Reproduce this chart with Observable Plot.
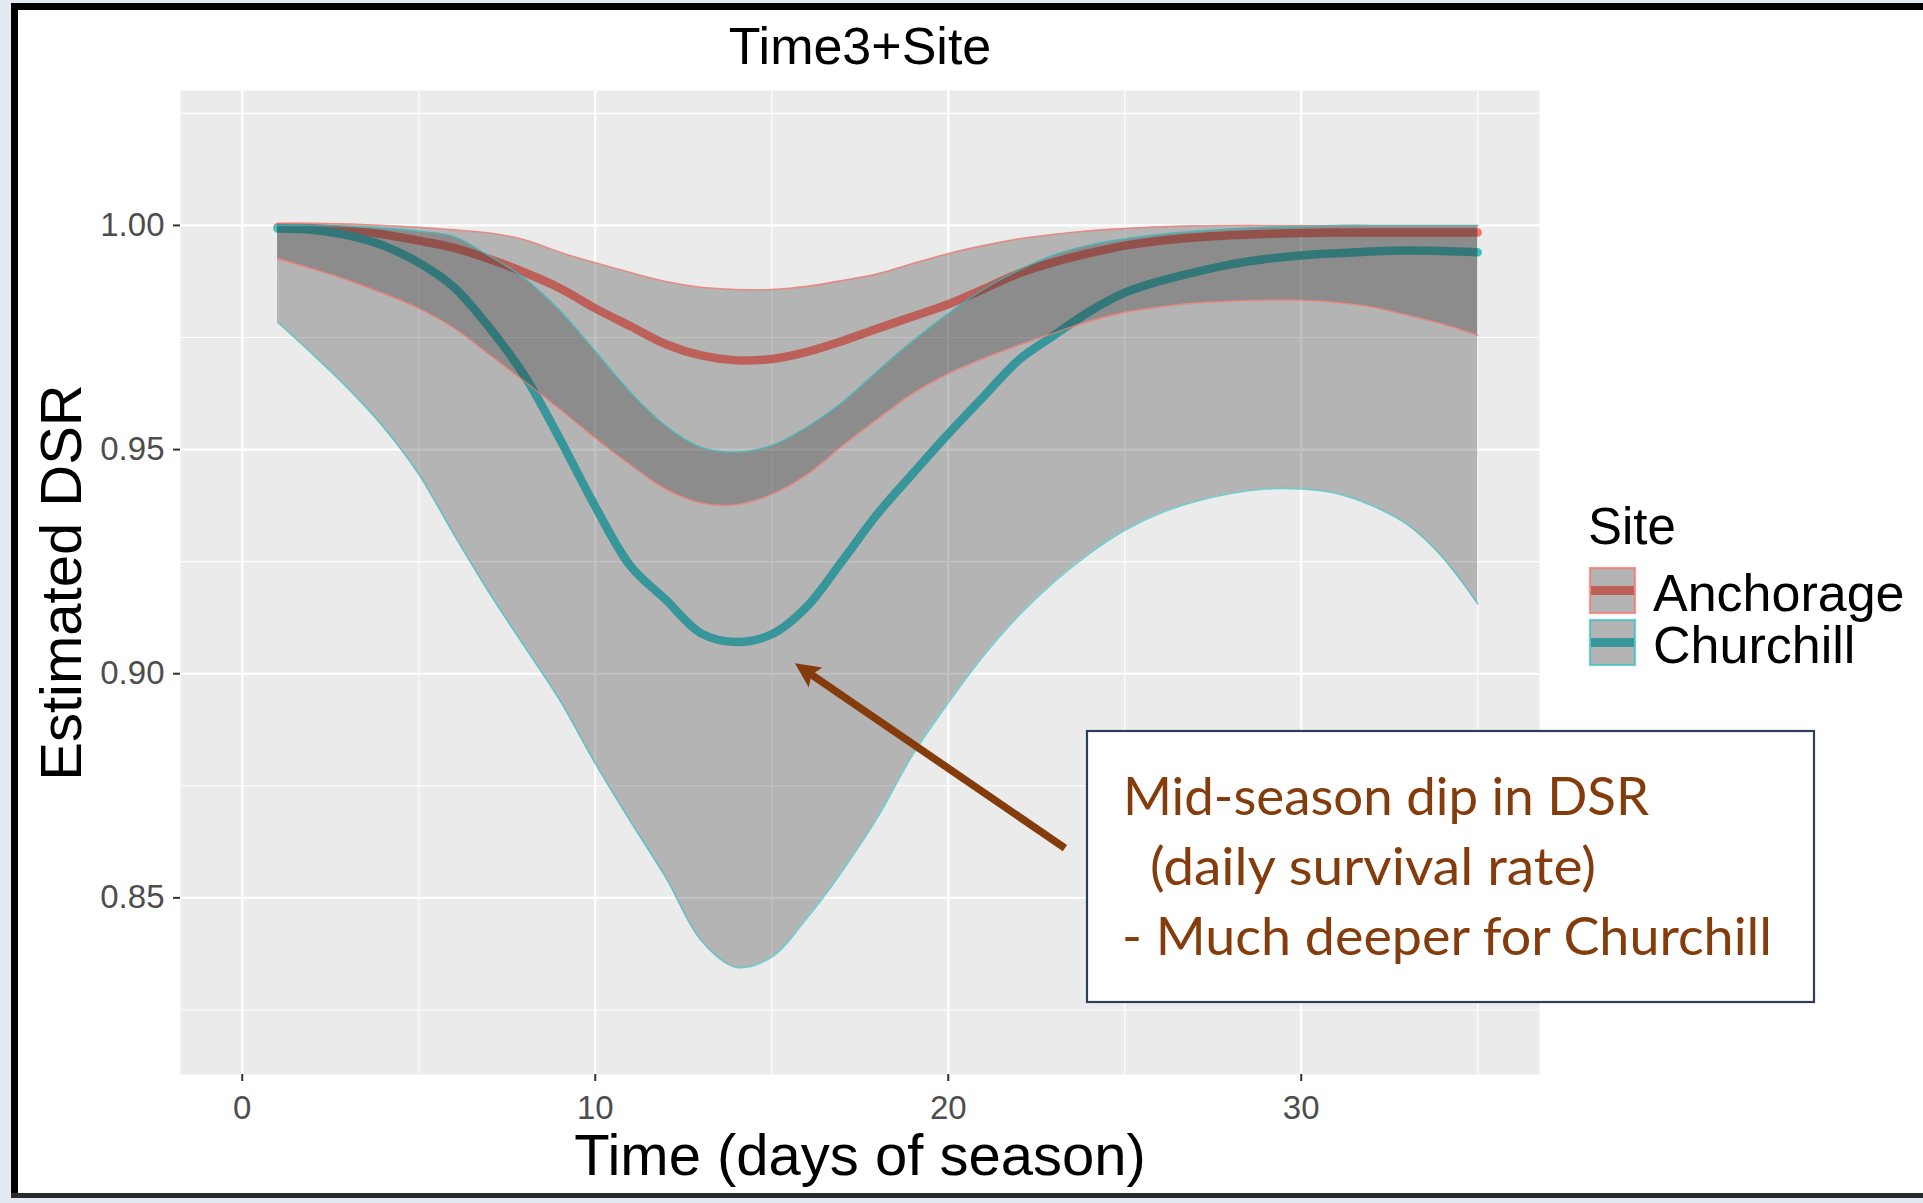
<!DOCTYPE html>
<html>
<head>
<meta charset="utf-8">
<script src="https://cdn.jsdelivr.net/npm/d3@7"></script>
<script src="https://cdn.jsdelivr.net/npm/@observablehq/plot@0.6"></script>
<style>
html, body { margin: 0; padding: 0; }
body { width: 1923px; height: 1203px; position: relative; overflow: hidden; background: #E4EAF2; }
#frame { position: absolute; left: 11px; top: 3px; width: 1912px; height: 1190px; background: #ffffff; border-top: 7px solid #000; border-left: 7px solid #000; box-sizing: border-box; }
#bottomline { position: absolute; left: 11px; top: 1193px; width: 1912px; height: 5px; background: #2a2a2a; }
#chart { position: absolute; left: 0; top: 0; }
</style>
</head>
<body>
<div id="frame"></div>
<div id="bottomline"></div>
<div id="chart"></div>
<script>
// ---------- data ----------
const days = [1,2,3,4,5,6,7,8,9,10,11,12,13,14,15,16,17,18,19,20,21,22,23,24,25,26,27,28,29,30,31,32,33,34,35];

const anchorageFit   = [0.9996,0.9994,0.9989,0.9980,0.9966,0.9950,0.9925,0.9895,0.9860,0.9815,0.9775,0.9735,0.9710,0.9699,0.9702,0.9718,0.9742,0.9770,0.9797,0.9824,0.9858,0.9893,0.9918,0.9938,0.9955,0.9966,0.9973,0.9978,0.9981,0.9983,0.9984,0.9984,0.9984,0.9984,0.9984];
const anchorageLower = [0.9926,0.9903,0.9878,0.9848,0.9815,0.9771,0.9712,0.9652,0.9590,0.9526,0.9466,0.9412,0.9381,0.9377,0.9400,0.9444,0.9508,0.9568,0.9625,0.9669,0.9703,0.9733,0.9760,0.9786,0.9806,0.9818,0.9827,0.9831,0.9833,0.9833,0.9828,0.9818,0.9800,0.9780,0.9755];
const anchorageUpper = [1.0005,1.0005,1.0003,1.0000,0.9996,0.9990,0.9983,0.9968,0.9940,0.9917,0.9895,0.9875,0.9862,0.9857,0.9857,0.9864,0.9877,0.9892,0.9915,0.9937,0.9955,0.9970,0.9980,0.9988,0.9993,0.9997,0.9999,1.0000,1.0000,1.0000,1.0000,1.0000,1.0000,1.0000,1.0000];

const churchillFit   = [0.9993,0.9990,0.9978,0.9955,0.9917,0.9862,0.9772,0.9664,0.9523,0.9373,0.9240,0.9165,0.9090,0.9071,0.9088,0.9150,0.9252,0.9357,0.9447,0.9535,0.9618,0.9700,0.9755,0.9808,0.9850,0.9876,0.9896,0.9913,0.9925,0.9933,0.9938,0.9942,0.9944,0.9943,0.9940];
const churchillLower = [0.9784,0.9712,0.9636,0.9550,0.9445,0.9310,0.9180,0.9060,0.8940,0.8800,0.8670,0.8545,0.8405,0.8345,0.8368,0.8455,0.8560,0.8680,0.8820,0.8935,0.9040,0.9130,0.9205,0.9268,0.9320,0.9358,0.9384,0.9402,0.9412,0.9412,0.9402,0.9375,0.9333,0.9260,0.9156];
const churchillUpper = [1.0000,1.0000,0.9998,0.9994,0.9987,0.9975,0.9932,0.9882,0.9810,0.9720,0.9628,0.9553,0.9505,0.9494,0.9509,0.9550,0.9605,0.9675,0.9742,0.9803,0.9858,0.9900,0.9934,0.9956,0.9970,0.9980,0.9987,0.9992,0.9996,0.9998,1.0000,1.0000,1.0000,1.0000,1.0000];

const siteNames = ["Anchorage", "Churchill"];
const siteColors = ["#F8766D", "#3CC2C5"];

const xBreaks = [0, 10, 20, 30];
const xMinorBreaks = [5, 15, 25, 35];
const yBreaks = [0.85, 0.90, 0.95, 1.00];
const yMinorBreaks = [0.825, 0.875, 0.925, 0.975, 1.025];
const xDomain = [-1.75, 36.75];
const yDomain = [0.8106, 1.0301];

const plotTitle = "Time3+Site";
const xLabel = "Time (days of season)";
const yLabel = "Estimated DSR";
const legendTitle = "Site";
const noteLines = ["Mid-season dip in DSR", "(daily survival rate)", "- Much deeper for Churchill"];
const arrowAnnotation = [{x1: 23.32, y1: 0.8610, x2: 15.67, y2: 0.9022}];

// ---------- table built from the arrays ----------
const seriesBySite = {
  Anchorage: {fit: anchorageFit, lower: anchorageLower, upper: anchorageUpper},
  Churchill: {fit: churchillFit, lower: churchillLower, upper: churchillUpper}
};
const rows = [];
for (const site of siteNames) {
  const s = seriesBySite[site];
  days.forEach((d, i) => rows.push({site, day: d, fit: s.fit[i], lower: s.lower[i], upper: s.upper[i]}));
}

const FONT = "Liberation Sans, Arial, Helvetica, sans-serif";
const curve = "catmull-rom";
const ribbonFill = "#2E2E2E";
const ribbonOpacity = 0.29;

const plot = Plot.plot({
  width: 1923,
  height: 1203,
  marginTop: 90,
  marginLeft: 180,
  marginRight: 384,
  marginBottom: 129,
  style: {background: "transparent", fontFamily: FONT, overflow: "visible"},
  x: {domain: xDomain},
  y: {domain: yDomain},
  color: {domain: siteNames, range: siteColors},
  marks: [
    Plot.frame({fill: "#EBEBEB", stroke: null}),
    Plot.ruleX(xMinorBreaks, {stroke: "#FFFFFF", strokeWidth: 1.1}),
    Plot.ruleY(yMinorBreaks, {stroke: "#FFFFFF", strokeWidth: 1.1}),
    Plot.ruleX(xBreaks, {stroke: "#FFFFFF", strokeWidth: 2.2}),
    Plot.ruleY(yBreaks, {stroke: "#FFFFFF", strokeWidth: 2.2}),
    Plot.line(rows, {x: "day", y: "fit", z: "site", stroke: "site", strokeWidth: 8.5, curve}),
    Plot.areaY(rows, {x: "day", y1: "lower", y2: "upper", z: "site", fill: ribbonFill, fillOpacity: ribbonOpacity, curve}),
    Plot.line(rows, {x: "day", y: "lower", z: "site", stroke: "site", strokeWidth: 1.6, strokeOpacity: 0.7, curve}),
    Plot.line(rows, {x: "day", y: "upper", z: "site", stroke: "site", strokeWidth: 1.6, strokeOpacity: 0.7, curve}),
    Plot.axisX(xBreaks, {tickSize: 7, tickPadding: 14, fontSize: 33, color: "#4D4D4D", stroke: "#333333", strokeWidth: 2, tickFormat: d => String(d), label: null}),
    Plot.axisY(yBreaks, {tickSize: 7, tickPadding: 9, fontSize: 33, color: "#4D4D4D", stroke: "#333333", strokeWidth: 2, tickFormat: d => d.toFixed(2), label: null}),
    Plot.text([plotTitle], {text: d => d, frameAnchor: "top", lineAnchor: "middle", textAnchor: "middle", dy: -43, fontSize: 52, fill: "#000", fontFamily: FONT}),
    Plot.text([xLabel], {text: d => d, frameAnchor: "bottom", lineAnchor: "middle", textAnchor: "middle", dy: 82, fontSize: 58, fill: "#000", fontFamily: FONT}),
    Plot.text([yLabel], {text: d => d, frameAnchor: "left", lineAnchor: "middle", textAnchor: "middle", rotate: -90, dx: -118, fontSize: 58, fill: "#000", fontFamily: FONT})
  ]
});

document.getElementById("chart").appendChild(plot);

const svg = d3.select(plot);
const sx = plot.scale("x"), sy = plot.scale("y");

// ---------- arrow (drawn through the scales) ----------
const ag = svg.append("g");
for (const a of arrowAnnotation) {
  const x1 = sx.apply(a.x1), y1 = sy.apply(a.y1), x2 = sx.apply(a.x2), y2 = sy.apply(a.y2);
  const len = Math.hypot(x2 - x1, y2 - y1);
  const ux = (x2 - x1) / len, uy = (y2 - y1) / len;
  const nx = -uy, ny = ux;
  const L = 25, W = 12, notch = 5;
  const bx = x2 - ux * L, by = y2 - uy * L;
  const cx = bx + ux * notch, cy = by + uy * notch;
  ag.append("line").attr("x1", x1).attr("y1", y1).attr("x2", cx).attr("y2", cy)
    .attr("stroke", "#843C0C").attr("stroke-width", 7.5);
  ag.append("polygon")
    .attr("points", [[x2, y2], [bx + nx * W, by + ny * W], [cx, cy], [bx - nx * W, by - ny * W]].map(p => p.join(",")).join(" "))
    .attr("fill", "#843C0C");
}

// ---------- legend ----------
const lg = svg.append("g").attr("font-family", FONT).attr("text-anchor", "start");
lg.append("text").attr("x", 1588).attr("y", 544).attr("font-size", 51).attr("fill", "#000").attr("text-anchor", "start").text(legendTitle);
siteNames.forEach((s, i) => {
  const y0 = 567 + i * 52;
  lg.append("rect").attr("x", 1590).attr("y", y0 + 1).attr("width", 45).attr("height", 45).attr("fill", "#EBEBEB");
  lg.append("line").attr("x1", 1591).attr("x2", 1634).attr("y1", y0 + 23.5).attr("y2", y0 + 23.5)
    .attr("stroke", siteColors[i]).attr("stroke-width", 9);
  lg.append("rect").attr("x", 1590).attr("y", y0 + 1).attr("width", 45).attr("height", 45)
    .attr("fill", ribbonFill).attr("fill-opacity", ribbonOpacity);
  lg.append("rect").attr("x", 1590).attr("y", y0 + 1).attr("width", 45).attr("height", 45)
    .attr("fill", "none").attr("stroke", siteColors[i]).attr("stroke-opacity", 0.75).attr("stroke-width", 2.2);
  lg.append("text").attr("x", 1653).attr("y", y0 + 44).attr("font-size", 52).attr("fill", "#000").attr("text-anchor", "start").text(s);
});

// ---------- annotation box ----------
const nb = svg.append("g").attr("text-anchor", "start");
nb.append("rect").attr("x", 1087).attr("y", 731).attr("width", 727).attr("height", 271)
  .attr("fill", "#FFFFFF").attr("stroke", "#2F3D5B").attr("stroke-width", 2.2);
const noteLayout = [
  {x: 1123, y: 815, w: 526},
  {x: 1150, y: 885, w: 446},
  {x: 1122, y: 955, w: 650}
];
noteLines.forEach((t, i) => {
  const p = noteLayout[i];
  nb.append("text").attr("x", p.x).attr("y", p.y)
    .attr("text-anchor", "start")
    .attr("font-family", "Lato, 'Open Sans', sans-serif").attr("font-size", 52)
    .attr("fill", "#843C0C")
    .attr("textLength", p.w).attr("lengthAdjust", "spacingAndGlyphs")
    .text(t);
});
</script>
</body>
</html>
